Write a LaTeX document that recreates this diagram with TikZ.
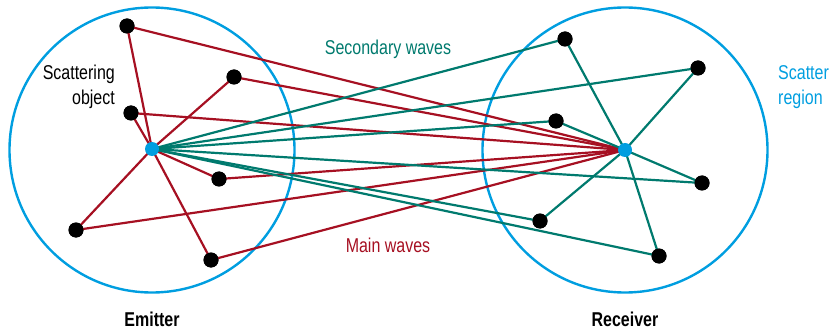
\documentclass[tikz,border=0pt]{standalone}
\usepackage{fontspec}
\setmainfont{Liberation Sans}[FakeStretch=0.8]
\definecolor{cblue}{RGB}{0,158,224}
\definecolor{cred}{RGB}{166,16,34}
\definecolor{cteal}{RGB}{0,122,110}
\begin{document}
\begin{tikzpicture}[x=1pt,y=-1pt,
  region/.style={draw=cblue,line width=2.4pt},
  mainw/.style={draw=cred,line width=2.2pt},
  secw/.style={draw=cteal,line width=2.2pt},
  dot/.style={circle,fill=black,inner sep=0pt,minimum size=15pt},
  src/.style={circle,fill=cblue,inner sep=0pt,minimum size=14pt},
  lbl/.style={font=\fontsize{20}{25}\selectfont,inner sep=0pt}]
\useasboundingbox (0,0) rectangle (832,331);
% regions
\draw[region] (152,150) circle[radius=142.5pt];
\draw[region] (625,150) circle[radius=142.5pt];
% nodes
\coordinate (Ec) at (152,149);
\coordinate (Rc) at (625,150);
\node[dot] (a) at (127,26) {};
\node[dot] (b) at (234,77) {};
\node[dot] (c) at (131,113) {};
\node[dot] (d) at (219,179) {};
\node[dot] (e) at (76,230) {};
\node[dot] (f) at (211,260) {};
\node[dot] (g) at (565,39) {};
\node[dot] (h) at (698,68) {};
\node[dot] (i) at (556,121) {};
\node[dot] (j) at (702,183) {};
\node[dot] (k) at (540,221) {};
\node[dot] (l) at (659,256) {};
% main waves
\foreach \n in {a,b,c,d,e,f} \draw[mainw] (Ec) -- (\n.center) -- (Rc);
% secondary waves
\foreach \n in {g,h,i,j,k,l} \draw[secw] (Ec) -- (\n.center) -- (Rc);
% redraw dots on top
\foreach \n/\p in {a/{(127,26)},b/{(234,77)},c/{(131,113)},d/{(219,179)},e/{(76,230)},f/{(211,260)},g/{(565,39)},h/{(698,68)},i/{(556,121)},j/{(702,183)},k/{(540,221)},l/{(659,256)}}
  \fill[black] \p circle[radius=7.5pt];
\node[src] (E) at (Ec) {};
\node[src] (R) at (Rc) {};
% labels
\node[lbl,anchor=base east,align=right] (so) at (115,105) {Scattering\\object};
\node[lbl,anchor=base west,align=left,text=cblue] (sr) at (778,105) {Scatter\\region};
\node[lbl,anchor=base,text=cteal] (sw) at (388,55) {Secondary waves};
\node[lbl,anchor=base,text=cred] (mw) at (388,252) {Main waves};
\node[lbl,anchor=base,font=\fontsize{20}{25}\selectfont\bfseries] (em) at (152,326) {Emitter};
\node[lbl,anchor=base,font=\fontsize{20}{25}\selectfont\bfseries] (re) at (625,326) {Receiver};
\end{tikzpicture}
\end{document}
